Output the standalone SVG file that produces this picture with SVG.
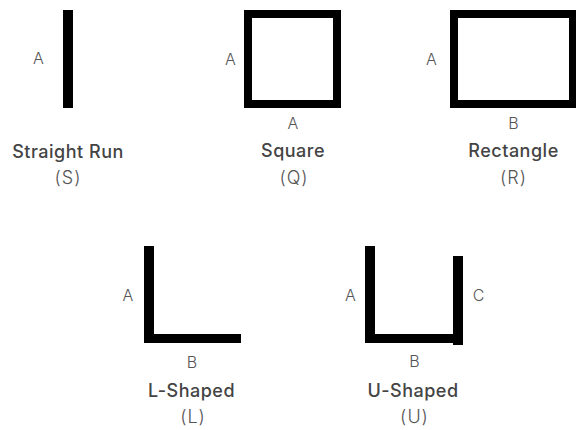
<svg xmlns="http://www.w3.org/2000/svg" width="576" height="430" viewBox="0 0 576 430">
<style>
.bar{fill:#000}
.frame{fill:#fff;stroke:#000;stroke-width:8}
.dim{font-family:Inter,"Liberation Sans",sans-serif;font-size:16px;font-weight:300;fill:#555;text-anchor:middle}
.title{font-family:Inter,"Liberation Sans",sans-serif;font-size:18px;font-weight:500;fill:#444;text-anchor:middle;letter-spacing:0.5px}
.code{font-family:Inter,"Liberation Sans",sans-serif;font-size:18px;font-weight:300;fill:#555;text-anchor:middle;letter-spacing:1px}
</style>
<rect width="576" height="430" fill="#fff"/>
<g id="straight">
<rect class="bar" x="63" y="10" width="10" height="98"/>
<text class="dim" x="38.5" y="64">A</text>
<text class="title" x="68" y="158">Straight Run</text>
<text class="code" x="68" y="184">(S)</text>
</g>
<g id="square">
<rect class="frame" x="248" y="14" width="89" height="90"/>
<text class="dim" x="230.5" y="65">A</text>
<text class="dim" x="293" y="129">A</text>
<text class="title" x="293" y="157">Square</text>
<text class="code" x="294" y="184">(Q)</text>
</g>
<g id="rectangle">
<rect class="frame" x="454" y="14" width="119" height="90"/>
<text class="dim" x="431.5" y="65">A</text>
<text class="dim" x="513.5" y="129">B</text>
<text class="title" x="513.5" y="157">Rectangle</text>
<text class="code" x="513.5" y="184">(R)</text>
</g>
<g id="lshaped">
<rect class="bar" x="144" y="246" width="10" height="97"/>
<rect class="bar" x="144" y="334" width="97" height="9"/>
<text class="dim" x="128" y="301">A</text>
<text class="dim" x="192" y="368">B</text>
<text class="title" x="191.5" y="397">L-Shaped</text>
<text class="code" x="193" y="423">(L)</text>
</g>
<g id="ushaped">
<rect class="bar" x="365" y="246" width="10" height="97"/>
<rect class="bar" x="365" y="334" width="98" height="9"/>
<rect class="bar" x="453" y="256" width="10" height="89"/>
<text class="dim" x="350.5" y="301">A</text>
<text class="dim" x="478.5" y="301">C</text>
<text class="dim" x="414.5" y="367">B</text>
<text class="title" x="413" y="397">U-Shaped</text>
<text class="code" x="414.5" y="423">(U)</text>
</g>
<g id="connectors"></g>
</svg>
